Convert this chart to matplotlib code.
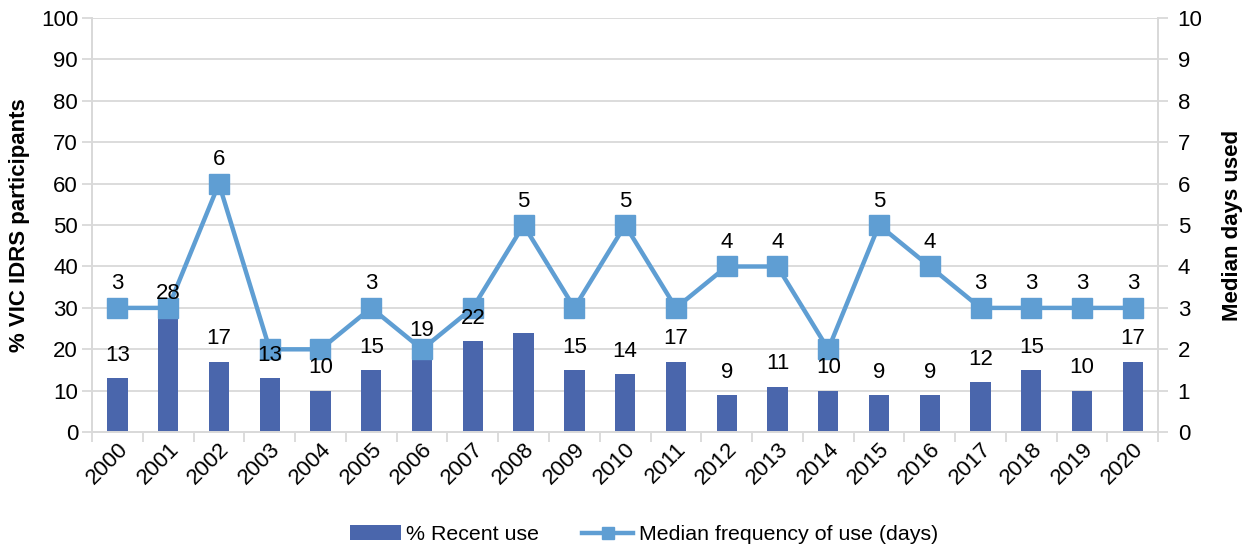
import matplotlib
matplotlib.use("Agg")
import matplotlib.pyplot as plt
import numpy as np
from matplotlib.lines import Line2D
from matplotlib.patches import Patch

plt.rcParams['font.family'] = ['Liberation Sans', 'DejaVu Sans']

years = ['2000', '2001', '2002', '2003', '2004', '2005', '2006', '2007', '2008', '2009', '2010',
         '2011', '2012', '2013', '2014', '2015', '2016', '2017', '2018', '2019', '2020']
recent_use = [13, 28, 17, 13, 10, 15, 19, 22, 24, 15, 14, 17, 9, 11, 10, 9, 9, 12, 15, 10, 17]
median_days = [3, 3, 6, 2, 2, 3, 2, 3, 5, 3, 5, 3, 4, 4, 2, 5, 4, 3, 3, 3, 3]
# which data labels are shown for each series
show_bar_label = [True] * 8 + [False] + [True] * 12
show_line_label = [True, False, True, False, False, True, False, False, True, False, True,
                   False, True, True, False, True, True, True, True, True, True]

bar_color = '#4A66AC'
line_color = '#5F9ED3'
grid_color = '#D9D9D9'
fs = 16

fig = plt.figure(figsize=(12.5, 5.47), dpi=100)
ax = fig.add_axes([0.0736, 0.21, 0.853, 0.757])
ax2 = ax.twinx()

x = np.arange(len(years))
ax.bar(x, recent_use, width=0.4, color=bar_color, zorder=2)
ax.set_ylim(0, 100)
ax.set_yticks(range(0, 101, 10))
ax.set_xlim(-0.5, len(years) - 0.5)
ax.yaxis.grid(True, color=grid_color, linewidth=1.3, zorder=0)
ax.set_axisbelow(True)

ax2.plot(x, median_days, color=line_color, linewidth=3.2, marker='s', markersize=14,
         zorder=3, solid_joinstyle='miter')
ax2.set_ylim(0, 10)
ax2.set_yticks(range(0, 11))

# Data labels live on the line axis so they sit above both series
for xi, v, s in zip(x, recent_use, show_bar_label):
    if s:
        ax2.text(xi, v / 10 + 0.55, str(v), ha='center', va='center', fontsize=fs, color='black', zorder=5)
for xi, v, s in zip(x, median_days, show_line_label):
    if s:
        ax2.text(xi, v + 0.58, str(v), ha='center', va='center', fontsize=fs, color='black', zorder=5)

# X axis: ticks between categories, labels at centres
ax.set_xticks(np.arange(-0.5, len(years), 1.0))
ax.set_xticklabels([])
ax.set_xticks(x, minor=True)
ax.set_xticklabels(years, minor=True, rotation=45, ha='right', va='top', rotation_mode='anchor', fontsize=fs)
ax.tick_params(axis='x', which='major', length=7, color=grid_color, width=1.3)
ax.tick_params(axis='x', which='minor', length=0, pad=5)

ax.tick_params(axis='y', length=7, color=grid_color, width=1.3, labelsize=fs, pad=3)
ax2.tick_params(axis='y', length=7, color=grid_color, width=1.3, labelsize=fs, pad=7)

for a in (ax, ax2):
    a.spines['top'].set_visible(False)
    for side in ('left', 'right', 'bottom'):
        a.spines[side].set_color(grid_color)
        a.spines[side].set_linewidth(1.3)

ax.set_ylabel('% VIC IDRS participants', fontsize=fs, fontweight='bold', labelpad=8)
ax2.set_ylabel('Median days used', fontsize=fs, fontweight='bold', labelpad=14)

handles = [Patch(facecolor=bar_color, edgecolor='none'),
           Line2D([0], [0], color=line_color, linewidth=3.2, marker='s', markersize=9)]
fig.legend(handles, ['% Recent use', 'Median frequency of use (days)'], loc='lower center',
           bbox_to_anchor=(0.515, -0.03), ncol=2, frameon=False, fontsize=15.4,
           handlelength=2.4, columnspacing=2.0, handletextpad=0.25)

fig.savefig('out.png', dpi=100)
